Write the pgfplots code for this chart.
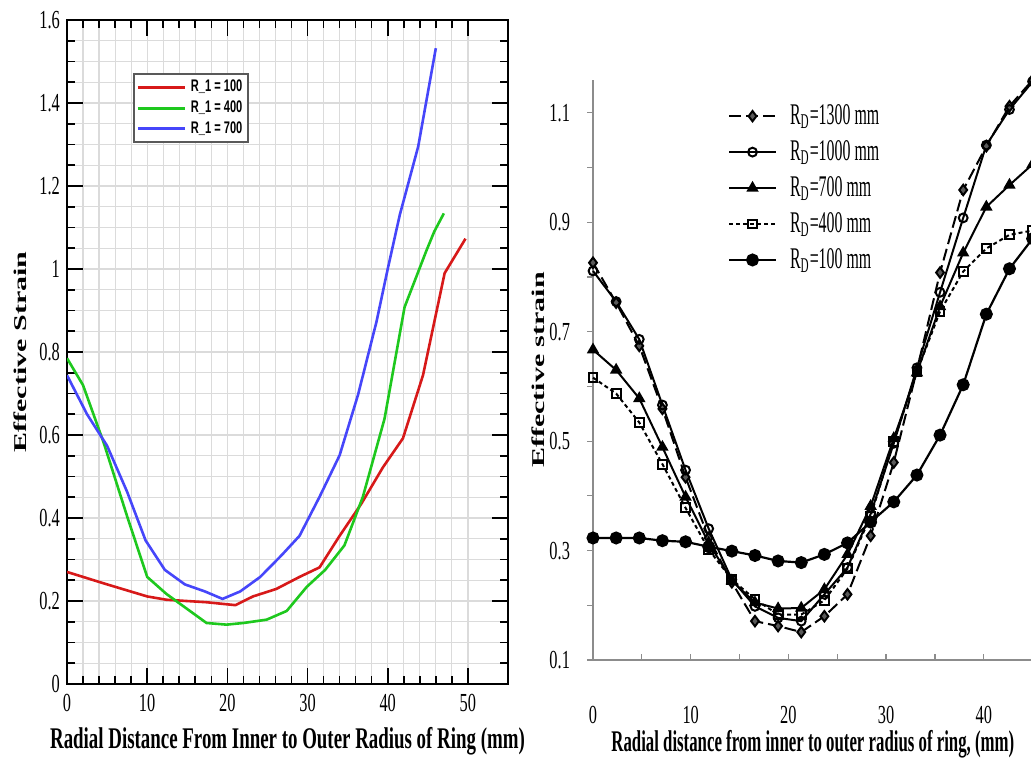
\documentclass[border=0pt]{standalone}
\usepackage{fontspec}
\setmainfont{Liberation Serif}
\newfontfamily\cserifA[FakeStretch=0.63]{Liberation Serif}
\newfontfamily\cserifB[FakeStretch=0.56]{Liberation Serif}
\newfontfamily\cserifC[FakeStretch=0.53]{Liberation Serif}
\newfontfamily\csans[FakeStretch=0.66]{Liberation Sans}
\usepackage{graphicx}
\usepackage{pgfplots}
\pgfplotsset{compat=1.18}
\definecolor{cred}{RGB}{215,25,25}
\definecolor{cgreen}{RGB}{30,200,30}
\definecolor{cblue}{RGB}{70,70,250}
\begin{document}
\begin{tikzpicture}
\path[use as bounding box] (0,0) rectangle (515.5pt,381.5pt);
\clip (0,0) rectangle (515.5pt,381.5pt);
% ---------------- Left panel ----------------
\begin{axis}[
  scale only axis, width=220.5pt, height=332pt,
  at={(33.5pt,39.5pt)}, anchor=south west,
  xmin=0, xmax=55, ymin=0, ymax=1.6,
  xtick={0,10,20,30,40,50},
  ytick={0,0.2,0.4,0.6,0.8,1,1.2,1.4,1.6},
  minor x tick num=4, minor y tick num=3,
  grid=both,
  major grid style={black!14, line width=0.6pt},
  minor grid style={black!14, line width=0.6pt},
  axis line style={line width=1.2pt},
  tick style={black, line width=0.8pt},
  major tick length=8pt, minor tick length=4pt,
  tick align=inside,
  /pgf/number format/assume math mode=true,
  ticklabel style={font=\cserifA\fontsize{13}{13}\selectfont},
  xticklabel style={yshift=-1.5pt},
  xlabel={\cserifA\bfseries\fontsize{15}{15}\selectfont Radial Distance From Inner to Outer Radius of Ring (mm)},
  xlabel style={at={(axis description cs:0.5,-0.086)}, anchor=center},
  ylabel={\scalebox{1}[0.6]{\bfseries\fontsize{15}{15}\selectfont Effective Strain}},
  ylabel style={at={(axis description cs:-0.1066,0.5)}, anchor=center},
  legend style={at={(axis description cs:0.1506,0.92)}, anchor=north west,
    draw=black!65, line width=0.9pt, fill=white, inner sep=1pt, row sep=-1pt,
    font=\csans\bfseries\fontsize{8.4}{9.2}\selectfont},
  legend cell align=left,
  legend image code/.code={\draw[#1, line width=1.5pt] (0pt,0pt) -- (23.8pt,0pt);},
]
\addplot[cred, line width=1.3pt] coordinates {
(0,0.27) (5,0.24) (10,0.211) (12.4,0.203) (17.4,0.197) (21,0.19) (23.2,0.211)
(26.1,0.229) (29,0.258) (31.5,0.281) (34,0.357) (36.7,0.434) (39.4,0.522)
(41.9,0.592) (44.4,0.744) (47.1,0.99) (49.7,1.073)};
\addlegendentry{R\_1 = 100}
\addplot[cgreen, line width=1.3pt] coordinates {
(0,0.785) (2,0.72) (4.6,0.58) (7.5,0.404) (10,0.258) (12.4,0.217) (14.9,0.182)
(17.4,0.147) (19.9,0.143) (22,0.147) (24.9,0.155) (27.4,0.176) (29.9,0.234)
(32.2,0.275) (34.6,0.334) (36.9,0.451) (39.6,0.639) (42.1,0.908) (44.8,1.043)
(45.8,1.09) (47,1.134)};
\addlegendentry{R\_1 = 400}
\addplot[cblue, line width=1.3pt] coordinates {
(0,0.744) (2.5,0.65) (5,0.574) (7.5,0.463) (9.8,0.346) (12.2,0.275) (14.7,0.24)
(17.2,0.223) (19.4,0.205) (21.6,0.223) (24.1,0.258) (26.8,0.311) (29,0.357)
(31.5,0.451) (34,0.551) (36.3,0.697) (38.6,0.873) (40,1.0) (41.5,1.13)
(43.8,1.295) (46,1.532)};
\addlegendentry{R\_1 = 700}
\end{axis}
% ---------------- Right panel ----------------
\begin{axis}[
  scale only axis, width=219.8pt, height=290pt,
  at={(296.5pt,51.5pt)}, anchor=south west,
  xmin=0, xmax=45, ymin=0.1, ymax=1.16,
  axis x line=bottom, axis y line=left,
  axis line style={black!45, line width=0.6pt, -},
  xtick={0,10,20,30,40}, minor xtick={5,15,25,35,45},
  ytick={0.1,0.3,0.5,0.7,0.9,1.1}, minor ytick={0.2,0.4,0.6,0.8,1.0},
  xtick align=inside, ytick align=outside,
  tick style={black!45, line width=0.6pt},
  major tick length=3pt, minor tick length=3pt,
  clip=false,
  /pgf/number format/assume math mode=true,
  /pgf/number format/fixed, /pgf/number format/precision=1,
  /pgf/number format/fixed zerofill,
  xticklabel style={font=\cserifA\fontsize{13}{13}\selectfont, yshift=-19.5pt, /pgf/number format/precision=0},
  yticklabel style={font=\cserifA\fontsize{13}{13}\selectfont, xshift=-5pt},
  xlabel={\cserifB\bfseries\fontsize{15}{15}\selectfont Radial distance from inner to outer radius of ring, (mm)},
  xlabel style={at={(axis description cs:0.5,-0.145)}, anchor=center},
  ylabel={\scalebox{1}[0.6]{\bfseries\fontsize{15}{15}\selectfont Effective strain}},
  ylabel style={at={(axis description cs:-0.125,0.5)}, anchor=center},
  legend style={at={(axis description cs:0.306,0.965)}, anchor=north west,
    draw=none, fill=none, inner sep=0pt, row sep=2.5pt,
    font=\cserifC\fontsize{15}{16}\selectfont},
  legend cell align=left,
  legend image code/.code={\draw[mark repeat=2,mark phase=2,#1] plot coordinates {(0pt,0pt) (11.75pt,0pt) (23.5pt,0pt)}; \path (28pt,0pt);},
]
\addplot[black, line width=1pt, dash pattern=on 6pt off 2.5pt, mark=diamond*, mark size=2.6pt,
  mark options={solid, fill=black!65}] coordinates {
(0,0.826) (2.368,0.753) (4.737,0.674) (7.105,0.559) (9.474,0.434) (11.842,0.323)
(14.211,0.242) (16.579,0.171) (18.947,0.162) (21.316,0.151) (23.684,0.180)
(26.053,0.220) (28.421,0.327) (30.789,0.461) (33.158,0.630) (35.526,0.808)
(37.895,0.959) (40.263,1.039) (42.632,1.112) (45,1.160)};
\addlegendentry{R\textsubscript{D}=1300 mm}
\addplot[black, line width=1pt, mark=o, mark size=2.2pt, mark options={solid, fill=white}] coordinates {
(0,0.811) (2.368,0.755) (4.737,0.686) (7.105,0.566) (9.474,0.447) (11.842,0.340)
(14.211,0.247) (16.579,0.198) (18.947,0.177) (21.316,0.171) (23.684,0.220)
(26.053,0.269) (28.421,0.367) (30.789,0.496) (33.158,0.634) (35.526,0.772)
(37.895,0.908) (40.263,1.041) (42.632,1.106) (45,1.157)};
\addlegendentry{R\textsubscript{D}=1000 mm}
\addplot[black, line width=1pt, mark=triangle*, mark size=2.6pt, mark options={solid}] coordinates {
(0,0.667) (2.368,0.630) (4.737,0.578) (7.105,0.489) (9.474,0.398) (11.842,0.314)
(14.211,0.245) (16.579,0.205) (18.947,0.194) (21.316,0.195) (23.684,0.229)
(26.053,0.293) (28.421,0.381) (30.789,0.505) (33.158,0.625) (35.526,0.746)
(37.895,0.844) (40.263,0.928) (42.632,0.968) (45,1.006)};
\addlegendentry{R\textsubscript{D}=700 mm}
\addplot[black, line width=1pt, dash pattern=on 2pt off 1.5pt, mark=square, mark size=2.2pt,
  mark options={solid, fill=white}] coordinates {
(0,0.616) (2.368,0.587) (4.737,0.534) (7.105,0.458) (9.474,0.378) (11.842,0.302)
(14.211,0.247) (16.579,0.211) (18.947,0.183) (21.316,0.183) (23.684,0.209)
(26.053,0.267) (28.421,0.363) (30.789,0.500) (33.158,0.627) (35.526,0.737)
(37.895,0.810) (40.263,0.852) (42.632,0.877) (45,0.885)};
\addlegendentry{R\textsubscript{D}=400 mm}
\addplot[black, line width=1.1pt, mark=*, mark size=2.7pt, mark options={solid}] coordinates {
(0,0.323) (2.368,0.323) (4.737,0.323) (7.105,0.318) (9.474,0.316) (11.842,0.307)
(14.211,0.299) (16.579,0.291) (18.947,0.281) (21.316,0.278) (23.684,0.293)
(26.053,0.314) (28.421,0.352) (30.789,0.389) (33.158,0.438) (35.526,0.511)
(37.895,0.603) (40.263,0.732) (42.632,0.815) (45,0.870)};
\addlegendentry{R\textsubscript{D}=100 mm}
\end{axis}
\end{tikzpicture}
\end{document}
